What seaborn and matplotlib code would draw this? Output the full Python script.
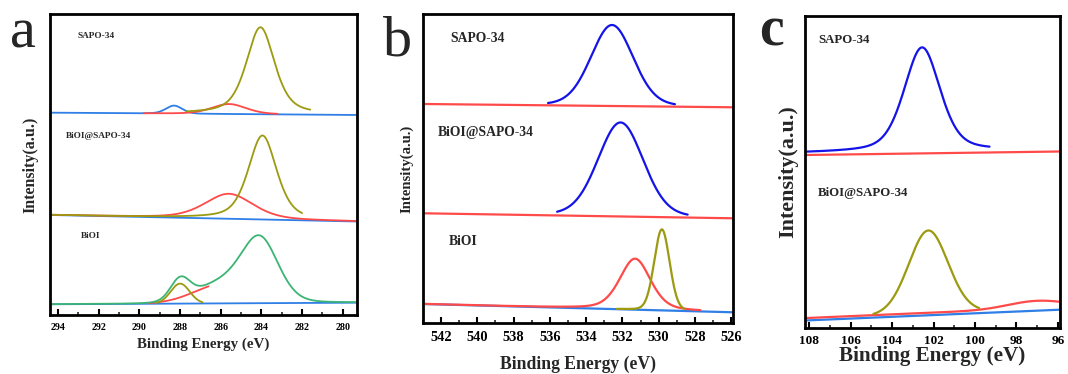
import numpy as np
import pandas as pd
import matplotlib
matplotlib.use("Agg")
import matplotlib.pyplot as plt
import seaborn as sns

sns.set_theme(style="white")
plt.rcParams["font.family"] = ["Liberation Serif", "DejaVu Serif"]
plt.rcParams["font.weight"] = "bold"

# ---------------- DATA (intensities in arbitrary units, stacked offsets) ----------------
# Panel a : C 1s
a_samples = ["SAPO-34", "BiOI@SAPO-34", "BiOI"]
a_xlim = (294.4, 279.3)
a_ticks = [294, 292, 290, 288, 286, 284, 282, 280]
a_base_left = [202.3, 100.0, 10.7]     # background at 294.4 eV
a_base_right = [200.0, 93.5, 12.3]     # background at 279.3 eV
# component: (sample, line, center, height, fwhm, lorentz fraction, from eV, to eV)
a_components = [
    (0, "blue_l", 288.3, 8.0, 0.95, 0.2, 294.4, 279.3),
    (0, "red", 285.6, 10.0, 2.0, 0.3, 289.8, 283.2),
    (0, "olive", 284.05, 87.0, 1.65, 0.55, 287.7, 281.6),
    (1, "blue_l", 284.0, 0.0, 1.0, 0.0, 294.4, 279.3),
    (1, "red", 285.6, 25.0, 2.8, 0.4, 294.4, 279.3),
    (1, "olive", 283.95, 84.0, 1.65, 0.5, 294.4, 282.0),
    (2, "blue_l", 284.0, 0.0, 1.0, 0.0, 294.4, 279.3),
    (2, "red", 285.8, 20.0, 3.4, 0.0, 289.6, 286.6),
    (2, "olive", 288.0, 20.0, 1.1, 0.0, 289.2, 286.9),
]
# BiOI envelope (green) = background + these peaks
a_env_sample = 2
a_env_peaks = [(284.05, 58.0, 2.1, 0.2), (285.8, 20.0, 3.4, 0.0), (288.0, 20.0, 1.1, 0.0)]

# Panel b : O 1s
b_samples = ["SAPO-34", "BiOI@SAPO-34", "BiOI"]
b_xlim = (543.0, 525.9)
b_ticks = [542, 540, 538, 536, 534, 532, 530, 528, 526]
b_base_left = [219.0, 109.7, 19.0]
b_base_right = [215.7, 104.7, 10.7]
b_components = [
    (0, "red", 532.0, 0.0, 1.0, 0.0, 543.0, 525.9),
    (0, "blue", 532.57, 81.0, 2.75, 0.15, 536.1, 529.1),
    (1, "red", 532.0, 0.0, 1.0, 0.0, 543.0, 525.9),
    (1, "blue", 532.1, 94.0, 2.95, 0.15, 535.6, 528.4),
    (2, "blue_l", 532.0, 0.0, 1.0, 0.0, 543.0, 525.9),
    (2, "red", 531.3, 51.0, 2.0, 0.35, 543.0, 527.7),
    (2, "olive", 529.82, 81.0, 1.0, 0.1, 532.3, 528.6),
]

# Panel c : Si 2p
c_samples = ["SAPO-34", "BiOI@SAPO-34"]
c_xlim = (108.2, 95.9)
c_ticks = [108, 106, 104, 102, 100, 98, 96]
c_base_left = [175.0, 7.5]
c_base_right = [178.5, 18.3]
c_components = [
    (0, "red", 102.0, 0.0, 1.0, 0.0, 108.2, 95.9),
    (0, "blue", 102.55, 104.0, 2.05, 0.4, 108.2, 99.3),
    (1, "blue_l", 102.0, 0.0, 1.0, 0.0, 108.2, 95.9),
    (1, "red_bg", 97.0, 7.5, 3.3, 0.0, 108.2, 95.9),
    (1, "olive", 102.25, 84.0, 2.25, 0.1, 104.9, 99.8),
]
c_extra_offset = {"red": -2.0, "red_bg": 2.4, "olive": 0.8}

# ---------------- STYLE ----------------
colors = {"blue": "#1414e8", "blue_l": "#2f7fe6", "red": "#ff4a4a", "red_bg": "#ff4a4a",
          "olive": "#9c9a10", "green": "#3cb574"}
order = {"blue_l": 1, "blue": 3, "red": 2, "red_bg": 2, "olive": 4, "green": 5}


def peak(x, c, h, w, m):
    g = np.exp(-4 * np.log(2) * ((x - c) / w) ** 2)
    l = 1.0 / (1.0 + 4 * ((x - c) / w) ** 2)
    return h * ((1 - m) * g + m * l)


def background(x, xlim, left, right):
    return left + (right - left) * (x - xlim[0]) / (xlim[1] - xlim[0])


def build(components, xlim, bl, br, extra=None):
    rows = []
    for k, (s, line, c, h, w, m, lo, hi) in enumerate(components):
        x = np.linspace(lo, hi, 500)
        y = background(x, xlim, bl[s], br[s]) + peak(x, c, h, w, m)
        if extra:
            y = y + extra.get(line, 0.0)
        rows.append(pd.DataFrame({"x": x, "y": y, "line": line, "id": k}))
    return rows


fig = plt.figure(figsize=(10.68, 3.74), dpi=100)
ax_a = fig.add_axes([0.0468, 0.1578, 0.2875, 0.8048])
ax_b = fig.add_axes([0.3960, 0.1364, 0.2903, 0.8262])
ax_c = fig.add_axes([0.7537, 0.1230, 0.2388, 0.8342])


def draw(ax, frames, lw=1.5):
    for df in sorted(frames, key=lambda d: order[d["line"].iloc[0]]):
        line = df["line"].iloc[0]
        sns.lineplot(data=df, x="x", y="y", ax=ax, color=colors[line], lw=lw,
                     sort=False, estimator=None, legend=False)


# panel a
fa = build(a_components, a_xlim, a_base_left, a_base_right)
xe = np.linspace(a_xlim[0], a_xlim[1], 800)
ye = background(xe, a_xlim, a_base_left[a_env_sample], a_base_right[a_env_sample])
for (c, h, w, m) in a_env_peaks:
    ye = ye + peak(xe, c, h, w, m)
fa.append(pd.DataFrame({"x": xe, "y": ye, "line": "green", "id": 99}))
draw(ax_a, fa, lw=1.3)

# panel b
draw(ax_b, build(b_components, b_xlim, b_base_left, b_base_right), lw=1.6)

# panel c
draw(ax_c, build(c_components, c_xlim, c_base_left, c_base_right, c_extra_offset), lw=1.6)

cfg = [
    (ax_a, a_xlim, a_ticks, 301, 7.2, 10.8, 11.5),
    (ax_b, b_xlim, b_ticks, 309, 10.4, 12.7, 10.6),
    (ax_c, c_xlim, c_ticks, 312, 9.5, 15.2, 15.8),
]
for ax, xl, tk, ht, tfs, xfs, yfs in cfg:
    ax.set_xticks(tk)
    ax.set_xticklabels([str(t) for t in tk], fontsize=tfs, fontweight="bold")
    lo, hi = min(xl), max(xl)
    minors = [v for v in np.arange(np.ceil(lo), np.floor(hi) + 1, 1.0) if int(v) % 2 == 1]
    ax.set_xticks(minors, minor=True)
    ax.set_xlim(*xl)
    ax.set_ylim(0, ht)
    ax.set_yticks([])
    ax.tick_params(axis="x", which="major", direction="in", length=4, width=1.5,
                   bottom=True, top=False, pad=6, colors="black")
    ax.tick_params(axis="x", which="minor", direction="in", length=2.5, width=1.2,
                   bottom=True, top=False)
    for sp in ax.spines.values():
        sp.set_visible(True)
        sp.set_color("black")
        sp.set_linewidth(2.0)
    ax.set_xlabel("Binding Energy (eV)", fontsize=xfs, fontweight="bold")
    ax.set_ylabel("Intensity(a.u.)", fontsize=yfs, fontweight="bold")
    ax.grid(False)
    ax.set_facecolor("white")

ax_a.xaxis.labelpad = 4
ax_b.xaxis.labelpad = 8
ax_c.xaxis.labelpad = -1
ax_c.tick_params(axis="x", which="major", pad=5)
ax_a.yaxis.labelpad = 8
ax_b.yaxis.labelpad = 7
ax_c.yaxis.labelpad = 5

# sample labels
for s, xx, yy in zip(a_samples, [293.05, 293.6, 292.9], [279, 179, 79]):
    ax_a.text(xx, yy, s, fontsize=6.7, fontweight="bold", va="center", ha="left")
for s, xx, yy in zip(b_samples, [541.5, 542.2, 541.6], [284, 190, 81]):
    ax_b.text(xx, yy, s, fontsize=9.8, fontweight="bold", va="center", ha="left")
for s, xx, yy in zip(c_samples, [107.56, 107.56], [288, 135]):
    ax_c.text(xx, yy, s, fontsize=9.3, fontweight="bold", va="center", ha="left")

# panel letters
fig.text(10 / 1068, 1 - 47 / 374, "a", fontsize=42, fontweight="normal", ha="left", va="baseline")
fig.text(383 / 1068, 1 - 55 / 374, "b", fontsize=42, fontweight="normal", ha="left", va="baseline")
fig.text(759 / 1068, 1 - 45 / 374, "c", fontsize=40, fontweight="bold", ha="left", va="baseline")

fig.savefig("out.png", dpi=100, facecolor="white")
